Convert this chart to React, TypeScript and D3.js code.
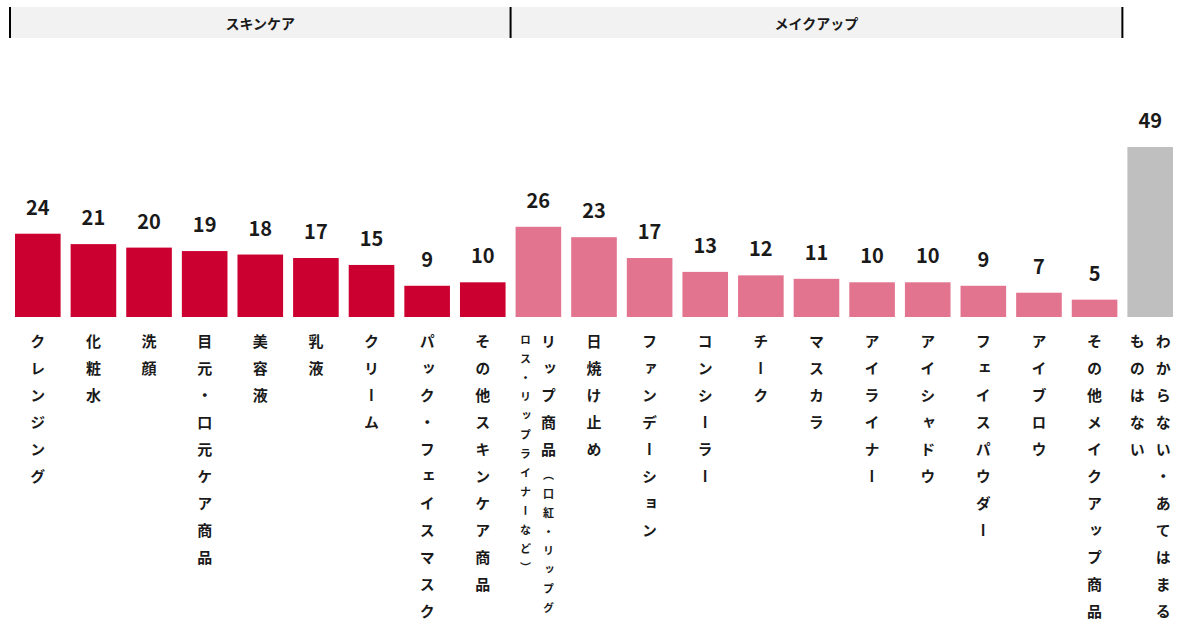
import React, { useEffect } from "react";
import { scaleBand, scaleLinear } from "d3";

// categories in display order
const categories = [
  "クレンジング",
  "化粧水",
  "洗顔",
  "目元・口元ケア商品",
  "美容液",
  "乳液",
  "クリーム",
  "パック・フェイスマスク",
  "その他スキンケア商品",
  "リップ商品（口紅・リップグロス・リップライナーなど）",
  "日焼け止め",
  "ファンデーション",
  "コンシーラー",
  "チーク",
  "マスカラ",
  "アイライナー",
  "アイシャドウ",
  "フェイスパウダー",
  "アイブロウ",
  "その他メイクアップ商品",
  "わからない・あてはまるものはない",
];

const values = [24, 21, 20, 19, 18, 17, 15, 9, 10, 26, 23, 17, 13, 12, 11, 10, 10, 9, 7, 5, 49];

// which group each bar belongs to
const barGroup = [
  "skin", "skin", "skin", "skin", "skin", "skin", "skin", "skin", "skin",
  "make", "make", "make", "make", "make", "make", "make", "make", "make", "make", "make",
  "none",
];

const groups = [
  { key: "skin", label: "スキンケア", first: 0, last: 8 },
  { key: "make", label: "メイクアップ", first: 9, last: 19 },
];

// how long labels wrap into vertical columns (right to left); [big text, small text]
const labelColumns: Record<number, [string, string][]> = {
  9: [["リップ商品", "（口紅・リップグ"], ["", "ロス・リップライナーなど）"]],
  20: [["わからない・あてはまる", ""], ["ものはない", ""]],
};

const colors: Record<string, string> = {
  skin: "#cc0030",
  make: "#e3748f",
  none: "#bfbfbf",
};

const W = 1180;
const H = 628;
const FONT = "'Noto Sans CJK JP', 'Noto Sans', sans-serif";

export default function App() {
  useEffect(() => {
    document.body.style.margin = "0";
  }, []);

  const x = scaleBand<number>()
    .domain(values.map((_, i) => i))
    .range([10, 1178])
    .paddingInner(0.18)
    .paddingOuter(0.09);

  const y = scaleLinear().domain([0, 50]).range([317, 143.5]);

  const gap = (x.step() * x.paddingInner()) / 2;

  return (
    <svg width={W} height={H} style={{ display: "block", fontFamily: FONT }}>
      {/* group header */}
      <rect
        x={x(0)! - gap}
        y={7}
        width={x(groups[1].last)! + x.bandwidth() + gap - (x(0)! - gap)}
        height={31}
        fill="#f2f2f2"
      />
      {groups.map((g) => {
        const x0 = x(g.first)! - gap;
        const x1 = x(g.last)! + x.bandwidth() + gap;
        return (
          <g key={g.key}>
            <line x1={x0} x2={x0} y1={7} y2={38} stroke="#000" strokeWidth={2} />
            <text
              x={(x0 + x1) / 2}
              y={22.5}
              textAnchor="middle"
              dominantBaseline="central"
              fontSize={14}
              fontWeight={700}
              fill="#1a1a1a"
            >
              {g.label}
            </text>
          </g>
        );
      })}
      <line
        x1={x(groups[1].last)! + x.bandwidth() + gap}
        x2={x(groups[1].last)! + x.bandwidth() + gap}
        y1={7}
        y2={38}
        stroke="#000"
        strokeWidth={2}
      />

      {/* bars */}
      {values.map((v, i) => (
        <g key={i}>
          <rect
            x={x(i)}
            y={y(v)}
            width={x.bandwidth()}
            height={y(0) - y(v)}
            fill={colors[barGroup[i]]}
          />
          <text
            x={x(i)! + x.bandwidth() / 2}
            y={y(v) - 19}
            textAnchor="middle"
            fontSize={20}
            fontWeight={700}
            fill="#1a1a1a"
          >
            {v}
          </text>
        </g>
      ))}

      {/* vertical category labels */}
      {categories.map((c, i) => {
        const cx = x(i)! + x.bandwidth() / 2;
        const cols: [string, string][] = labelColumns[i] || [[c, ""]];
        const widths = cols.map((col) => (col[0] ? 26 : 20));
        const total = widths.reduce((a, b) => a + b, 0);
        let right = cx + total / 2;
        return (
          <g key={c}>
            {cols.map((col, k) => {
              const colX = right - widths[k] / 2;
              right -= widths[k];
              return (
                <text
                  key={k}
                  x={colX}
                  y={334}
                  style={{ writingMode: "vertical-rl" }}
                  fontWeight={700}
                  fill="#1a1a1a"
                >
                  {col[0] && (
                    <tspan fontSize={15} letterSpacing={12}>
                      {col[0]}
                    </tspan>
                  )}
                  {col[1] && (
                    <tspan fontSize={11} letterSpacing={8}>
                      {col[1]}
                    </tspan>
                  )}
                </text>
              );
            })}
          </g>
        );
      })}
    </svg>
  );
}
